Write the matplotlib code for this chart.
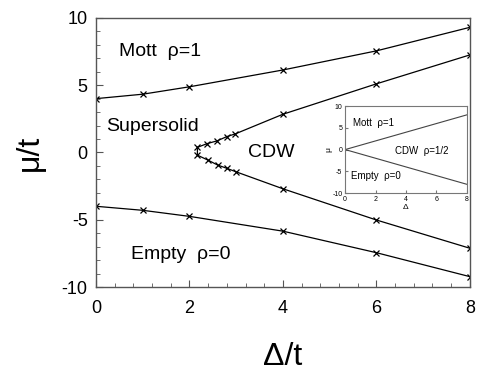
import matplotlib
matplotlib.use("Agg")
import matplotlib.pyplot as plt
from matplotlib.ticker import MultipleLocator

plt.rcParams['font.family'] = ['Liberation Sans', 'DejaVu Sans']
plt.rcParams['axes.unicode_minus'] = False

# Mott / supersolid boundary
mott_x = [0, 1, 2, 4, 6, 8]
mott_y = [4.0, 4.33, 4.88, 6.13, 7.55, 9.3]

# Empty / supersolid boundary
empty_x = [0, 1, 2, 4, 6, 8]
empty_y = [-4.0, -4.3, -4.75, -5.85, -7.45, -9.23]

# CDW lobe boundary (upper branch down to the cusp, then lower branch)
cdw_x = [8, 6, 4, 2.98, 2.8, 2.59, 2.38, 2.17, 2.17, 2.39, 2.6, 2.8, 2.99, 4, 6, 8]
cdw_y = [7.25, 5.1, 2.84, 1.38, 1.18, 0.86, 0.66, 0.38, -0.2, -0.56, -0.93, -1.18, -1.43, -2.7, -5.02, -7.12]

# inset: atomic limit
inset_x = [0, 8]
inset_up = [0, 8]
inset_down = [0, -8]

fig = plt.figure(figsize=(4.91, 3.81), dpi=100)
ax = fig.add_axes([0.1955, 0.2467, 0.7615, 0.7063])

for xs, ys in [(mott_x, mott_y), (empty_x, empty_y), (cdw_x, cdw_y)]:
    ax.plot(xs, ys, color='black', lw=0.9, marker='x', ms=4.5, mew=0.9)

ax.set_xlim(0, 8)
ax.set_ylim(-10, 10)
ax.xaxis.set_major_locator(MultipleLocator(2))
ax.xaxis.set_minor_locator(MultipleLocator(0.4))
ax.yaxis.set_major_locator(MultipleLocator(5))
ax.yaxis.set_minor_locator(MultipleLocator(1))
ax.tick_params(which='both', direction='in', top=False, right=False,
               color='#555555', labelsize=13)
ax.tick_params(which='major', length=5)
ax.tick_params(which='minor', length=3)
ax.tick_params(axis='x', pad=9)
ax.tick_params(axis='y', pad=6)
for s in ax.spines.values():
    s.set_color('#555555')
    s.set_linewidth(1.0)

ax.set_xlabel('Δ/t', fontsize=23, labelpad=18)
ax.set_ylabel('μ/t', fontsize=23, labelpad=12)

ax.text(0.5, 7.5, 'Mott  ρ=1', fontsize=14, va='center')
ax.text(0.22, 1.9, 'Supersolid', fontsize=14, va='center')
ax.text(3.25, 0.0, 'CDW', fontsize=14, va='center')
ax.text(0.75, -7.6, 'Empty  ρ=0', fontsize=14, va='center')

# inset
ins = fig.add_axes([0.703, 0.4934, 0.248, 0.228])
ins.plot(inset_x, inset_up, color='#444444', lw=0.8)
ins.plot(inset_x, inset_down, color='#444444', lw=0.8)
ins.set_xlim(0, 8)
ins.set_ylim(-10, 10)
ins.xaxis.set_major_locator(MultipleLocator(2))
ins.yaxis.set_major_locator(MultipleLocator(5))
ins.tick_params(direction='in', top=False, right=False, labelsize=5,
                length=2, pad=2, color='#777777')
for s in ins.spines.values():
    s.set_color('#777777')
    s.set_linewidth(0.8)
ins.set_xlabel('Δ', fontsize=6, labelpad=1)
ins.set_ylabel('μ', fontsize=6, labelpad=0)
ins.text(0.5, 6.2, 'Mott  ρ=1', fontsize=7, va='center')
ins.text(3.3, -0.3, 'CDW  ρ=1/2', fontsize=7, va='center')
ins.text(0.35, -6.1, 'Empty  ρ=0', fontsize=7, va='center')

fig.savefig('out.png', dpi=100)
